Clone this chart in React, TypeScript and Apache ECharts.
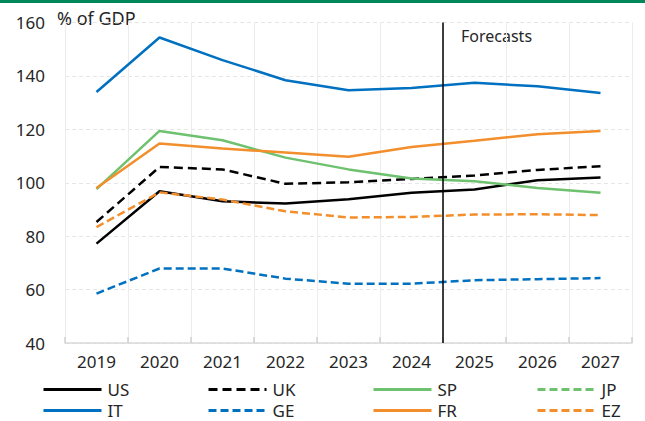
import React, { useEffect, useRef } from "react";
import * as echarts from "echarts";

const years = ["2019", "2020", "2021", "2022", "2023", "2024", "2025", "2026", "2027"];
const us = [77.2, 96.8, 93.1, 92.2, 93.8, 96.3, 97.5, 100.9, 102.0];
const uk = [85.3, 105.9, 105.0, 99.6, 100.2, 101.4, 102.7, 104.8, 106.2];
const sp = [97.6, 119.4, 115.9, 109.4, 105.0, 101.6, 100.6, 98.0, 96.3];
const jp: number[] = [];
const it = [134.0, 154.4, 145.9, 138.4, 134.6, 135.5, 137.4, 136.1, 133.6];
const ge = [58.5, 67.9, 67.9, 64.1, 62.2, 62.2, 63.5, 63.9, 64.3];
const fr = [98.0, 114.7, 112.8, 111.3, 109.7, 113.4, 115.7, 118.2, 119.4];
const ez = [83.4, 96.4, 93.7, 89.3, 87.0, 87.2, 88.1, 88.2, 87.9];
const forecastBoundary = 6; // boundary between 2024 and 2025 (in category units)

const legendRow1 = ["US", "UK", "SP", "JP"];
const legendRow2 = ["IT", "GE", "FR", "EZ"];

const FONT = "'Noto Sans', 'DejaVu Sans', sans-serif";
const TXT = "#262626";

export default function App() {
  const ref = useRef<HTMLDivElement>(null);
  useEffect(() => {
    if (!ref.current) return;
    const chart = echarts.init(ref.current, undefined, { renderer: "svg" });
    const mk = (name: string, data: number[], color: string, dash: any, width = 2.5) => ({
      name,
      type: "line",
      data,
      symbol: "none",
      showSymbol: false,
      lineStyle: { color, width, type: dash },
      itemStyle: { color },
      z: 3,
    });
    const colLeft = [42, 207, 372, 536];
    const mkLegend = (name: string, col: number, row: number) => ({
      orient: "horizontal",
      left: colLeft[col],
      top: row === 0 ? 381 : 402,
      itemWidth: 58,
      itemHeight: 14,
      itemGap: 0,
      padding: 0,
      selectedMode: false,
      itemStyle: { opacity: 0, borderWidth: 0 },
      lineStyle: { width: 3 },
      textStyle: { fontSize: 17, lineHeight: 17, color: TXT, fontFamily: FONT, padding: [0, 0, 0, 1] },
      data: [name],
    });
    const legends: any[] = [];
    legendRow1.forEach((n, i) => legends.push(mkLegend(n, i, 0)));
    legendRow2.forEach((n, i) => legends.push(mkLegend(n, i, 1)));

    chart.setOption({
      animation: false,
      grid: { left: 65, right: 13, top: 22.5, bottom: 78 },
      xAxis: [
        {
          type: "category",
          data: years,
          boundaryGap: true,
          axisLine: { show: true, lineStyle: { color: "#d9d9d9", width: 1.5 } },
          axisTick: { show: true, inside: true, length: 6, lineStyle: { color: "#d0d0d0", width: 1.5 } },
          axisLabel: { fontSize: 17, color: TXT, fontFamily: FONT, margin: 10 },
          splitLine: { show: true, lineStyle: { color: "#ececec", width: 1 } },
        },
        {
          type: "value",
          min: 0,
          max: 9,
          show: false,
          position: "top",
        },
      ],
      yAxis: {
        type: "value",
        min: 40,
        max: 160,
        interval: 20,
        axisLine: { show: false },
        axisTick: { show: false },
        axisLabel: { fontSize: 17, color: TXT, fontFamily: FONT, margin: 20 },
        splitLine: { show: true, lineStyle: { color: "#e6e6e6", width: 1, type: [4, 3] } },
      },
      legend: legends,
      graphic: [
        { type: "rect", left: 0, top: 0, shape: { width: 645, height: 3 }, style: { fill: "#00875A" } },
        {
          type: "text",
          left: 57,
          top: 9,
          style: { text: "% of GDP", fontSize: 18, fill: TXT, fontFamily: FONT },
        },
        {
          type: "text",
          left: 461,
          top: 28,
          style: { text: "Forecasts", fontSize: 16, fill: TXT, fontFamily: FONT },
        },
      ],
      series: [
        mk("US", us, "#000000", "solid"),
        mk("UK", uk, "#000000", [9, 5]),
        mk("SP", sp, "#6EC16E", "solid"),
        mk("JP", jp, "#6EC16E", [8, 4]),
        mk("IT", it, "#0070C0", "solid"),
        mk("GE", ge, "#0070C0", [8, 4]),
        mk("FR", fr, "#F28E2B", "solid"),
        mk("EZ", ez, "#F28E2B", [8, 4]),
        {
          name: "forecast",
          type: "line",
          xAxisIndex: 1,
          data: [[forecastBoundary, 40]],
          symbol: "none",
          lineStyle: { opacity: 0 },
          silent: true,
          markLine: {
            symbol: "none",
            silent: true,
            label: { show: false },
            lineStyle: { color: "#000", width: 1.5, type: "solid" },
            data: [{ xAxis: forecastBoundary }],
          },
        },
      ],
    });
    return () => chart.dispose();
  }, []);
  return (
    <div
      ref={ref}
      style={{ position: "fixed", left: 0, top: 0, width: 645, height: 421, background: "#fff" }}
    />
  );
}
